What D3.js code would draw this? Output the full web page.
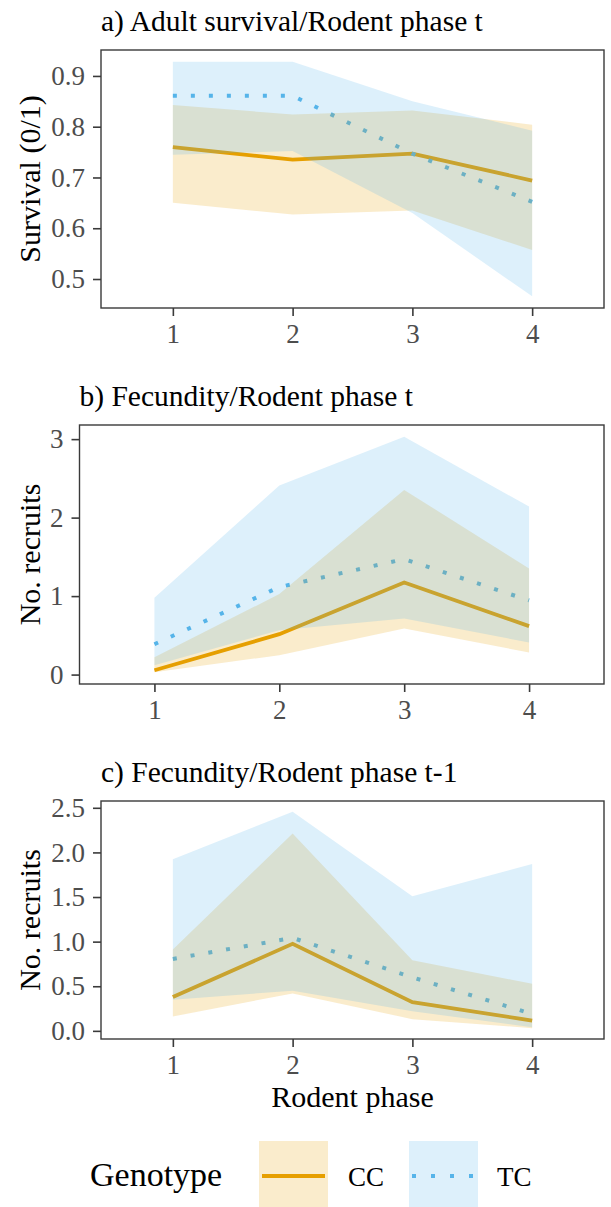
<!DOCTYPE html>
<html>
<head>
<meta charset="utf-8">
<script src="https://cdn.jsdelivr.net/npm/d3@7"></script>
<style>
  body { margin: 0; background: #fff; }
  svg text { font-family: "Liberation Serif", "Times New Roman", serif; }
</style>
</head>
<body>
<div id="chart"></div>
<script>
// rodent phase on x
const phases = [1, 2, 3, 4];
const genotypes = ["CC", "TC"];

// a) adult survival / rodent phase t
const ccSurv = [0.760, 0.735, 0.747, 0.694];
const ccSurvLo = [0.650, 0.627, 0.635, 0.557];
const ccSurvHi = [0.843, 0.824, 0.832, 0.804];
const tcSurv = [0.861, 0.861, 0.747, 0.652];
const tcSurvLo = [0.745, 0.752, 0.630, 0.466];
const tcSurvHi = [0.928, 0.928, 0.850, 0.792];

// b) fecundity / rodent phase t
const ccFec = [0.055, 0.515, 1.174, 0.617];
const ccFecLo = [0.030, 0.247, 0.587, 0.281];
const ccFecHi = [0.220, 1.026, 2.353, 1.352];
const tcFec = [0.387, 1.115, 1.472, 0.945];
const tcFecLo = [0.120, 0.566, 0.715, 0.409];
const tcFecHi = [0.980, 2.409, 3.030, 2.140];

// c) fecundity / rodent phase t-1
const ccFecLag = [0.379, 0.975, 0.322, 0.116];
const ccFecLagLo = [0.161, 0.420, 0.131, 0.030];
const ccFecLagHi = [0.911, 2.211, 0.791, 0.528];
const tcFecLag = [0.806, 1.042, 0.600, 0.190];
const tcFecLagLo = [0.349, 0.450, 0.220, 0.040];
const tcFecLagHi = [1.923, 2.455, 1.510, 1.870];

const survTicks = [0.5, 0.6, 0.7, 0.8, 0.9];
const fecTicks = [0, 1, 2, 3];
const fecLagTicks = [0, 0.5, 1, 1.5, 2, 2.5];

const colors = { CC: "#E69F00", TC: "#56B4E9" };
const W = 611, H = 1207;

const svg = d3.select("#chart").append("svg")
    .attr("width", W)
    .attr("height", H);

const panels = [
  { title: "a) Adult survival/Rodent phase t", ylab: "Survival (0/1)",
    left: 101, top: 50, bottom: 308, ticks: survTicks, fmt: d3.format(".1f"),
    cc: [ccSurv, ccSurvLo, ccSurvHi], tc: [tcSurv, tcSurvLo, tcSurvHi] },
  { title: "b) Fecundity/Rodent phase t", ylab: "No. recruits",
    left: 79.5, top: 425, bottom: 684, ticks: fecTicks, fmt: d3.format("d"),
    cc: [ccFec, ccFecLo, ccFecHi], tc: [tcFec, tcFecLo, tcFecHi] },
  { title: "c) Fecundity/Rodent phase t-1", ylab: "No. recruits",
    left: 101, top: 801, bottom: 1039, ticks: fecLagTicks, fmt: d3.format(".1f"),
    cc: [ccFecLag, ccFecLagLo, ccFecLagHi], tc: [tcFecLag, tcFecLagLo, tcFecLagHi] }
];
const right = 604;

panels.forEach(function(p, pi) {
    const x = d3.scaleLinear().domain([0.4, 4.6]).range([p.left, right]);
    // ggplot style 5% expansion
    const all = p.cc[1].concat(p.cc[2], p.tc[1], p.tc[2]);
    const lo = d3.min(all), hi = d3.max(all), pad = (hi - lo) * 0.05;
    const y = d3.scaleLinear().domain([lo - pad, hi + pad]).range([p.bottom, p.top]);

    const g = svg.append("g");

    const rows = function(s) {
        return phases.map((ph, i) => ({ x: ph, y: s[0][i], lo: s[1][i], hi: s[2][i] }));
    };
    const series = { CC: rows(p.cc), TC: rows(p.tc) };

    const line = d3.line().x(d => x(d.x)).y(d => y(d.y));
    const area = d3.area().x(d => x(d.x)).y0(d => y(d.lo)).y1(d => y(d.hi));

    // lines first, ribbons on top (like the original)
    g.append("path").datum(series.CC)
        .attr("d", line).attr("fill", "none")
        .attr("stroke", colors.CC).attr("stroke-width", 3.8);
    g.append("path").datum(series.TC)
        .attr("d", line).attr("fill", "none")
        .attr("stroke", colors.TC).attr("stroke-width", 4)
        .attr("stroke-dasharray", "4 14");

    genotypes.forEach(function(k) {
        g.append("path").datum(series[k])
            .attr("d", area)
            .attr("fill", colors[k]).attr("fill-opacity", 0.2);
    });

    // panel border
    g.append("rect")
        .attr("x", p.left).attr("y", p.top)
        .attr("width", right - p.left).attr("height", p.bottom - p.top)
        .attr("fill", "none").attr("stroke", "#3a3a3a").attr("stroke-width", 1.4);

    // axes
    const yAxis = d3.axisLeft(y).tickValues(p.ticks).tickFormat(p.fmt)
        .tickSize(8).tickPadding(8);
    const ya = g.append("g").attr("transform", "translate(" + p.left + ",0)").call(yAxis);
    const xAxis = d3.axisBottom(x).tickValues(phases).tickFormat(d3.format("d"))
        .tickSize(8).tickPadding(8);
    const xa = g.append("g").attr("transform", "translate(0," + p.bottom + ")").call(xAxis);

    [ya, xa].forEach(function(a) {
        a.select(".domain").remove();
        a.selectAll(".tick line").attr("stroke", "#3a3a3a").attr("stroke-width", 1.6);
        a.selectAll(".tick text").attr("fill", "#4d4d4d")
            .style("font-size", "27px");
    });

    g.append("text")
        .attr("x", p.left).attr("y", p.top - 19)
        .style("font-size", "29.5px").attr("fill", "#000")
        .text(p.title);

    g.append("text")
        .attr("transform", "translate(40," + ((p.top + p.bottom) / 2) + ") rotate(-90)")
        .attr("text-anchor", "middle")
        .style("font-size", "30px").attr("fill", "#000")
        .text(p.ylab);

    if (pi === panels.length - 1) {
        g.append("text")
            .attr("x", (p.left + right) / 2).attr("y", 1107)
            .attr("text-anchor", "middle")
            .style("font-size", "30px").attr("fill", "#000")
            .text("Rodent phase");
    }
});

// legend
const leg = svg.append("g");
leg.append("text").attr("x", 90).attr("y", 1186)
    .style("font-size", "34px").attr("fill", "#000").text("Genotype");

const keys = [
  { k: "CC", x: 259, lx: 348 },
  { k: "TC", x: 409, lx: 497 }
];
keys.forEach(function(d) {
    leg.append("rect").attr("x", d.x).attr("y", 1141)
        .attr("width", 69).attr("height", 68)
        .attr("fill", colors[d.k]).attr("fill-opacity", 0.2);
    const ln = leg.append("line")
        .attr("x1", d.x + 3).attr("x2", d.x + 66)
        .attr("y1", 1176).attr("y2", 1176)
        .attr("stroke", colors[d.k]).attr("stroke-width", d.k === "CC" ? 3.8 : 4);
    if (d.k === "TC") ln.attr("stroke-dasharray", "4 15");
    leg.append("text").attr("x", d.lx).attr("y", 1186)
        .style("font-size", "27px").attr("fill", "#000").text(d.k);
});
</script>
</body>
</html>
